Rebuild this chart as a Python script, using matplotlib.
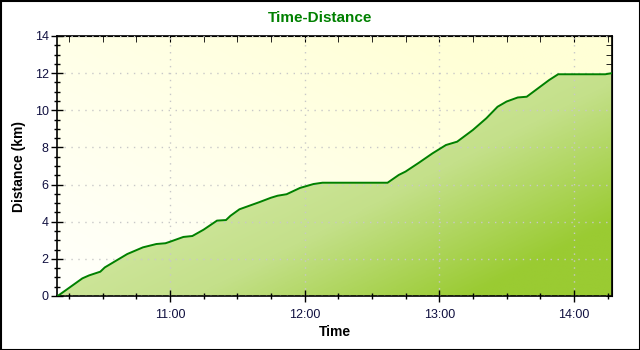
import numpy as np
import matplotlib
matplotlib.use("Agg")
import matplotlib.pyplot as plt
from matplotlib.ticker import FuncFormatter, MultipleLocator
from matplotlib.patches import Rectangle, Polygon
from matplotlib.colors import LinearSegmentedColormap

# Cumulative distance over the ride (clock time, km)
times = ["10:10", "10:21", "10:24", "10:29", "10:31", "10:41", "10:48", "10:54",
         "10:58", "11:00", "11:06", "11:10", "11:15", "11:21", "11:25", "11:27",
         "11:31", "11:40", "11:45", "11:48", "11:52", "11:58", "12:04", "12:08",
         "12:37", "12:42", "12:45", "12:51", "12:57", "13:03", "13:08", "13:15",
         "13:21", "13:26", "13:30", "13:35", "13:39", "13:43", "13:49", "13:53",
         "14:14", "14:17"]
distance_km = [0.0, 0.95, 1.11, 1.31, 1.54, 2.26, 2.62, 2.80,
               2.84, 2.92, 3.18, 3.23, 3.57, 4.06, 4.09, 4.32,
               4.67, 5.06, 5.29, 5.40, 5.48, 5.82, 6.03, 6.10,
               6.10, 6.52, 6.70, 7.18, 7.68, 8.13, 8.31, 8.94,
               9.57, 10.19, 10.47, 10.69, 10.73, 11.09, 11.63, 11.94,
               11.94, 12.00]
hour_ticks = [11, 12, 13, 14]
x_start, x_end = "10:09.7", "14:17"


def to_hours(s):
    h, m = s.split(":")
    return int(h) + float(m) / 60.0


x = np.array([to_hours(t) for t in times])
y = np.array(distance_km)
x0, x1 = to_hours(x_start), to_hours(x_end)

plt.rcParams["font.family"] = ["Liberation Sans", "DejaVu Sans"]

fig = plt.figure(figsize=(6.4, 3.5), dpi=100)
fig.patch.set_facecolor("white")
ax = fig.add_axes([57 / 640, 1 - 296 / 350, 555 / 640, 260 / 350])
ax.set_xlim(x0, x1)
ax.set_ylim(0, 14)

# background gradient: near-white lower left to pale yellow upper right
gx, gy = np.meshgrid(np.linspace(0, 1, 200), np.linspace(0, 1, 200))
g = np.clip(0.65 * gx + 0.55 * gy, 0, 1)
bg_cmap = LinearSegmentedColormap.from_list("bg", ["#fffffc", "#ffffd6"])
ax.imshow(g, cmap=bg_cmap, extent=[x0, x1, 0, 14], origin="lower",
          aspect="auto", zorder=0, interpolation="bilinear")

# area under the curve with a diagonal green gradient
poly_pts = np.column_stack([np.r_[x[0], x, x[-1]], np.r_[0, y, 0]])
poly = Polygon(poly_pts, closed=True, facecolor="none", edgecolor="none")
ax.add_patch(poly)
f = np.clip(0.6 * gx + 0.55 * (1 - gy), 0, 1)
fill_cmap = LinearSegmentedColormap.from_list(
    "fill", [(0.0, "#e8f4c8"), (0.7, "#c4e08a"), (1.0, "#9acb32")])
im = ax.imshow(f, cmap=fill_cmap, extent=[x0, x1, 0, 14], origin="lower",
               aspect="auto", zorder=1, interpolation="bilinear")
im.set_clip_path(poly)

ax.plot(x, y, color="#008000", lw=1.4, zorder=3, solid_joinstyle="miter")

# grid
ax.set_xticks(hour_ticks)
ax.yaxis.set_major_locator(MultipleLocator(2))
ax.xaxis.set_minor_locator(MultipleLocator(0.25))
ax.yaxis.set_minor_locator(MultipleLocator(0.5))
ax.grid(True, which="major", color="#c8c8c8", linestyle=(0, (1, 4)), lw=1.0,
        zorder=0.5)
ax.set_axisbelow(False)

ax.xaxis.set_major_formatter(FuncFormatter(lambda v, p: f"{int(round(v))}:00"))
ax.tick_params(axis="both", which="major", direction="inout", length=8,
               width=1, labelsize=9, labelcolor="#101040", color="black")
ax.tick_params(axis="both", which="minor", direction="inout", length=5,
               width=1, color="black")
ax.tick_params(axis="x", which="both", top=False, pad=5)
ax.tick_params(axis="y", which="both", right=False, pad=2)

# inward ticks along the top and right edges
top = ax.secondary_xaxis("top")
top.set_xticks(hour_ticks)
top.xaxis.set_minor_locator(MultipleLocator(0.25))
top.tick_params(which="both", direction="in", length=4, labeltop=False)
right = ax.secondary_yaxis("right")
right.yaxis.set_major_locator(MultipleLocator(2))
right.yaxis.set_minor_locator(MultipleLocator(0.5))
right.tick_params(which="both", direction="in", length=4, labelright=False)

for sp in ax.spines.values():
    sp.set_linewidth(1.2)
    sp.set_color("black")

ax.set_xlabel("Time", fontsize=10, fontweight="bold", labelpad=3)
ax.set_ylabel("Distance (km)", fontsize=10, fontweight="bold", labelpad=6)
fig.text(0.5, 1 - 18 / 350, "Time-Distance", ha="center", va="center",
         fontsize=11, fontweight="bold", color="#008000")

# outer frame
fig.add_artist(Rectangle((0.5 / 640, 0.5 / 350), 639 / 640, 349 / 350,
                         transform=fig.transFigure, fill=False,
                         edgecolor="black", lw=1.5))

fig.savefig("out.png", dpi=100, facecolor="white")
